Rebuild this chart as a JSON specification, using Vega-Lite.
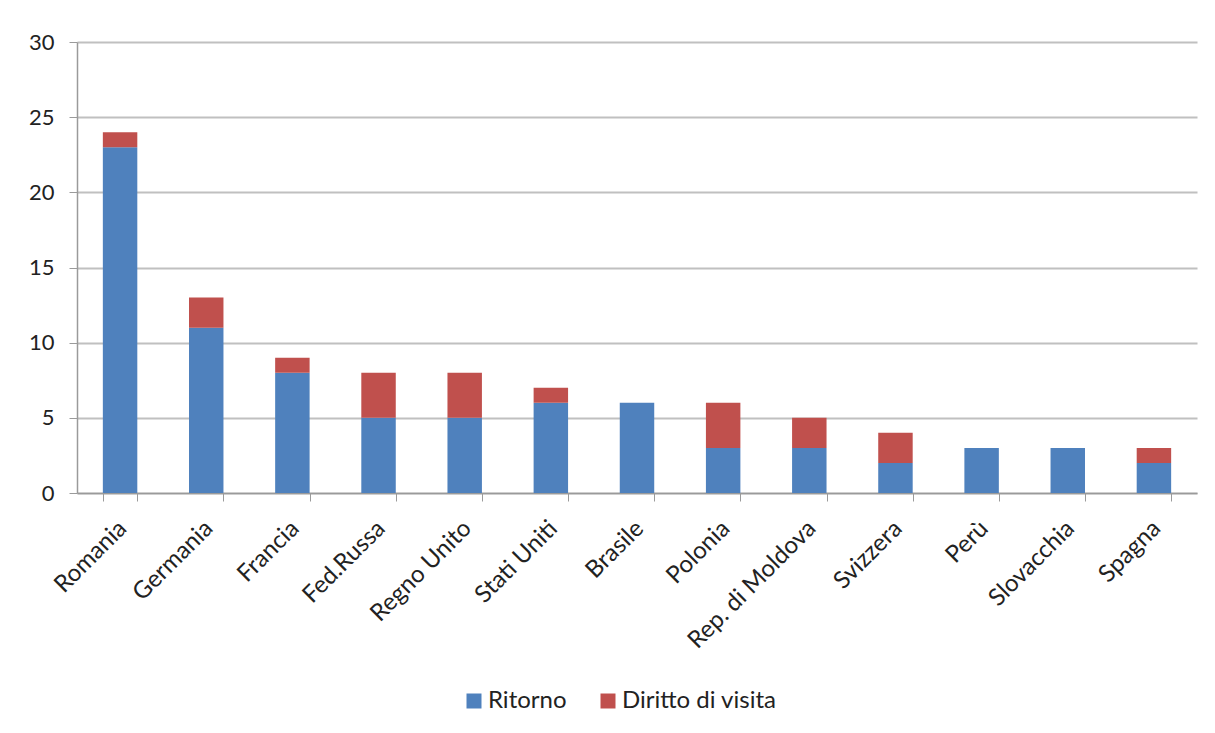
{
  "$schema": "https://vega.github.io/schema/vega-lite/v6.json",
  "width": 1120,
  "height": 451,
  "autosize": "none",
  "padding": {"left": 77, "top": 42, "right": 18, "bottom": 240},
  "background": "white",
  "data": {
    "values": [
      {"paese": "Romania", "tipo": "Ritorno", "valore": 23, "ord": 1},
      {"paese": "Romania", "tipo": "Diritto di visita", "valore": 1, "ord": 2},
      {"paese": "Germania", "tipo": "Ritorno", "valore": 11, "ord": 1},
      {"paese": "Germania", "tipo": "Diritto di visita", "valore": 2, "ord": 2},
      {"paese": "Francia", "tipo": "Ritorno", "valore": 8, "ord": 1},
      {"paese": "Francia", "tipo": "Diritto di visita", "valore": 1, "ord": 2},
      {"paese": "Fed.Russa", "tipo": "Ritorno", "valore": 5, "ord": 1},
      {"paese": "Fed.Russa", "tipo": "Diritto di visita", "valore": 3, "ord": 2},
      {"paese": "Regno Unito", "tipo": "Ritorno", "valore": 5, "ord": 1},
      {"paese": "Regno Unito", "tipo": "Diritto di visita", "valore": 3, "ord": 2},
      {"paese": "Stati Uniti", "tipo": "Ritorno", "valore": 6, "ord": 1},
      {"paese": "Stati Uniti", "tipo": "Diritto di visita", "valore": 1, "ord": 2},
      {"paese": "Brasile", "tipo": "Ritorno", "valore": 6, "ord": 1},
      {"paese": "Polonia", "tipo": "Ritorno", "valore": 3, "ord": 1},
      {"paese": "Polonia", "tipo": "Diritto di visita", "valore": 3, "ord": 2},
      {"paese": "Rep. di Moldova", "tipo": "Ritorno", "valore": 3, "ord": 1},
      {"paese": "Rep. di Moldova", "tipo": "Diritto di visita", "valore": 2, "ord": 2},
      {"paese": "Svizzera", "tipo": "Ritorno", "valore": 2, "ord": 1},
      {"paese": "Svizzera", "tipo": "Diritto di visita", "valore": 2, "ord": 2},
      {"paese": "Perù", "tipo": "Ritorno", "valore": 3, "ord": 1},
      {"paese": "Slovacchia", "tipo": "Ritorno", "valore": 3, "ord": 1},
      {"paese": "Spagna", "tipo": "Ritorno", "valore": 2, "ord": 1},
      {"paese": "Spagna", "tipo": "Diritto di visita", "valore": 1, "ord": 2}
    ]
  },
  "mark": {"type": "bar"},
  "encoding": {
    "x": {
      "field": "paese",
      "type": "nominal",
      "sort": null,
      "title": null,
      "scale": {"paddingInner": 0.6, "paddingOuter": 0.3},
      "axis": {
        "labelAngle": -45,
        "tickBand": "extent",
        "tickSize": 8,
        "tickColor": "#9a9a9a",
        "domainColor": "#9a9a9a",
        "domainWidth": 1.5,
        "labelPadding": 15,
        "labelOffset": -6,
        "labelFont": "Lato",
        "labelFontSize": 24,
        "labelColor": "#222222"
      }
    },
    "y": {
      "field": "valore",
      "type": "quantitative",
      "aggregate": "sum",
      "stack": "zero",
      "title": null,
      "scale": {"domain": [0, 30], "nice": false},
      "axis": {
        "values": [0, 5, 10, 15, 20, 25, 30],
        "tickSize": 8,
        "tickColor": "#9a9a9a",
        "domainColor": "#9a9a9a",
        "domainWidth": 1.5,
        "gridColor": "#c0c0c0",
        "gridWidth": 2,
        "labelPadding": 15,
        "labelFont": "Lato",
        "labelFontSize": 22,
        "labelColor": "#222222"
      }
    },
    "color": {
      "field": "tipo",
      "type": "nominal",
      "title": null,
      "scale": {"domain": ["Ritorno", "Diritto di visita"], "range": ["#4F81BD", "#C0504D"]},
      "legend": {
        "orient": "none",
        "legendX": 385,
        "legendY": 647,
        "direction": "horizontal",
        "symbolType": "square",
        "symbolSize": 225,
        "symbolStrokeWidth": 0,
        "labelOffset": 2,
        "labelFont": "Lato",
        "labelFontSize": 24,
        "labelColor": "#222222",
        "columnPadding": 29
      }
    },
    "order": {"field": "ord", "type": "quantitative"}
  },
  "config": {
    "view": {"stroke": null}
  }
}
